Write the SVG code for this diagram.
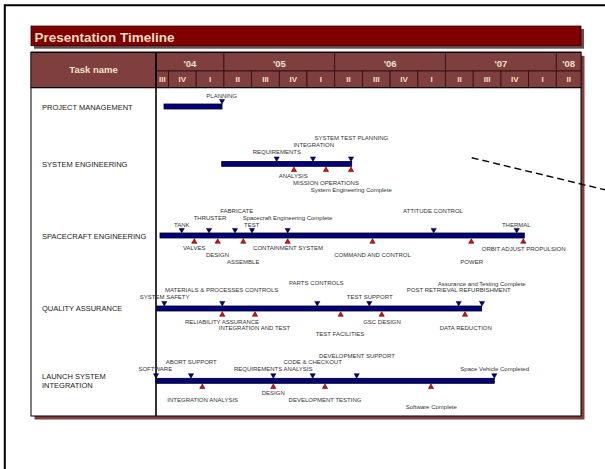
<svg xmlns="http://www.w3.org/2000/svg" width="605" height="469" viewBox="0 0 605 469">
<style>
text{font-family:"Liberation Sans",Arial,sans-serif}
.hd{fill:#7f3f3f;stroke:#2a0d0d;stroke-width:0.8}
.ht{fill:#f2e2c6;font-weight:bold;text-anchor:middle}
.yr{font-size:9.5px}
.qt{font-size:8px}
.rl{font-size:7.5px;fill:#222}
.ml{font-size:6px;fill:#333;text-anchor:middle}
.bar{fill:#000080;stroke:#000;stroke-width:0.8}
</style>
<defs>
<path id="dn" d="M-2.6,-4.6 H2.6 L0,0 Z" fill="#000080" stroke="#000" stroke-width="0.5"/>
<path id="up" d="M-2.6,4.6 H2.6 L0,0 Z" fill="#ff0000" stroke="#000" stroke-width="0.5"/>
</defs>
<rect width="605" height="469" fill="#fff"/>
<path d="M4.8,475 V5.2 H612" fill="none" stroke="#000" stroke-width="2"/>
<g id="title">
<rect x="34" y="29" width="550" height="19.7" fill="#6b4b4b"/>
<rect x="31" y="26" width="550" height="19.7" fill="#800000" stroke="#2a0000" stroke-width="0.8"/>
<text x="34.5" y="42" font-size="13.5" font-weight="bold" fill="#f2dcc0">Presentation Timeline</text>
</g>
<g id="table">
<rect x="34.5" y="55.8" width="550" height="363.7" fill="#7f3f3f"/>
<rect x="31" y="52.3" width="550" height="363.7" fill="#fff" stroke="#000" stroke-width="1"/>
<rect class="hd" x="31" y="52.3" width="125" height="35.4"/>
<text class="ht" x="93.5" y="72.8" font-size="9.5">Task name</text>
<rect class="hd" x="156" y="52.3" width="67.9" height="18.7"/>
<rect class="hd" x="223.9" y="52.3" width="110.8" height="18.7"/>
<rect class="hd" x="334.7" y="52.3" width="110.8" height="18.7"/>
<rect class="hd" x="445.5" y="52.3" width="110.8" height="18.7"/>
<rect class="hd" x="556.3" y="52.3" width="24.7" height="18.7"/>
<text class="ht yr" x="190" y="66.8">'04</text>
<text class="ht yr" x="279.3" y="66.8">'05</text>
<text class="ht yr" x="390.1" y="66.8">'06</text>
<text class="ht yr" x="500.9" y="66.8">'07</text>
<text class="ht yr" x="568.6" y="66.8">'08</text>
<rect class="hd" x="156" y="71" width="12.5" height="16.7"/>
<rect class="hd" x="168.5" y="71" width="27.7" height="16.7"/>
<rect class="hd" x="196.2" y="71" width="27.7" height="16.7"/>
<rect class="hd" x="223.9" y="71" width="27.7" height="16.7"/>
<rect class="hd" x="251.6" y="71" width="27.7" height="16.7"/>
<rect class="hd" x="279.3" y="71" width="27.7" height="16.7"/>
<rect class="hd" x="307" y="71" width="27.7" height="16.7"/>
<rect class="hd" x="334.7" y="71" width="27.7" height="16.7"/>
<rect class="hd" x="362.4" y="71" width="27.7" height="16.7"/>
<rect class="hd" x="390.1" y="71" width="27.7" height="16.7"/>
<rect class="hd" x="417.8" y="71" width="27.7" height="16.7"/>
<rect class="hd" x="445.5" y="71" width="27.7" height="16.7"/>
<rect class="hd" x="473.2" y="71" width="27.7" height="16.7"/>
<rect class="hd" x="500.9" y="71" width="27.7" height="16.7"/>
<rect class="hd" x="528.6" y="71" width="27.7" height="16.7"/>
<rect class="hd" x="556.3" y="71" width="24.7" height="16.7"/>
<text class="ht qt" x="162.3" y="82.3">III</text>
<text class="ht qt" x="182.4" y="82.3">IV</text>
<text class="ht qt" x="210" y="82.3">I</text>
<text class="ht qt" x="237.8" y="82.3">II</text>
<text class="ht qt" x="265.5" y="82.3">III</text>
<text class="ht qt" x="293.2" y="82.3">IV</text>
<text class="ht qt" x="320.9" y="82.3">I</text>
<text class="ht qt" x="348.6" y="82.3">II</text>
<text class="ht qt" x="376.3" y="82.3">III</text>
<text class="ht qt" x="404" y="82.3">IV</text>
<text class="ht qt" x="431.7" y="82.3">I</text>
<text class="ht qt" x="459.4" y="82.3">II</text>
<text class="ht qt" x="487.1" y="82.3">III</text>
<text class="ht qt" x="514.8" y="82.3">IV</text>
<text class="ht qt" x="542.5" y="82.3">I</text>
<text class="ht qt" x="568.7" y="82.3">II</text>
<line x1="31" y1="87.7" x2="581" y2="87.7" stroke="#000" stroke-width="1"/>
<line x1="156" y1="52.3" x2="156" y2="416" stroke="#000" stroke-width="1.6"/>
<line x1="31" y1="52.3" x2="581" y2="52.3" stroke="#000" stroke-width="1.2"/>
</g>
<g id="row-project-management">
<text class="rl" x="42" y="109.8">PROJECT MANAGEMENT</text>
<rect class="bar" x="164" y="104" width="58" height="5"/>
<use href="#dn" x="222" y="104"/>
<text class="ml" x="221.7" y="97.5">PLANNING</text>
</g>
<g id="row-system-engineering">
<text class="rl" x="42" y="166.8">SYSTEM ENGINEERING</text>
<rect class="bar" x="221.7" y="161.5" width="130" height="4.8"/>
<use href="#dn" x="276.7" y="161.5"/>
<use href="#dn" x="313" y="161.5"/>
<use href="#dn" x="351" y="161.5"/>
<use href="#up" x="294" y="167"/>
<use href="#up" x="326" y="167"/>
<use href="#up" x="351" y="167"/>
<text class="ml" x="351.3" y="140.2">SYSTEM TEST PLANNING</text>
<text class="ml" x="313.7" y="146.9">INTEGRATION</text>
<text class="ml" x="276.8" y="153.6">REQUIREMENTS</text>
<text class="ml" x="293.2" y="178">ANALYSIS</text>
<text class="ml" x="326" y="184.6">MISSION OPERATIONS</text>
<text class="ml" x="351.2" y="191.6">System Engineering Complete</text>
</g>
<g id="row-spacecraft-engineering">
<text class="rl" x="42" y="238.7">SPACECRAFT ENGINEERING</text>
<rect class="bar" x="160" y="233" width="364.3" height="5"/>
<use href="#dn" x="181.7" y="233"/>
<use href="#dn" x="209" y="233"/>
<use href="#dn" x="235" y="233"/>
<use href="#dn" x="252" y="233"/>
<use href="#dn" x="287.7" y="233"/>
<use href="#dn" x="433.7" y="233"/>
<use href="#dn" x="516.7" y="233"/>
<use href="#up" x="194.3" y="238.7"/>
<use href="#up" x="217.7" y="238.7"/>
<use href="#up" x="243.3" y="238.7"/>
<use href="#up" x="287.7" y="238.7"/>
<use href="#up" x="372.5" y="238.7"/>
<use href="#up" x="471.3" y="238.7"/>
<use href="#up" x="523.3" y="238.7"/>
<text class="ml" x="181.7" y="226.6">TANK</text>
<text class="ml" x="210" y="219.7">THRUSTER</text>
<text class="ml" x="236.7" y="213">FABRICATE</text>
<text class="ml" x="287.5" y="220">Spacecraft Engineering Complete</text>
<text class="ml" x="251.7" y="226.6">TEST</text>
<text class="ml" x="433" y="213">ATTITUDE CONTROL</text>
<text class="ml" x="516.3" y="226.6">THERMAL</text>
<text class="ml" x="194.3" y="250">VALVES</text>
<text class="ml" x="217.5" y="256.6">DESIGN</text>
<text class="ml" x="243.3" y="264">ASSEMBLE</text>
<text class="ml" x="288" y="250">CONTAINMENT SYSTEM</text>
<text class="ml" x="372.5" y="256.6">COMMAND AND CONTROL</text>
<text class="ml" x="471.7" y="264">POWER</text>
<text class="ml" x="523.7" y="250.6">ORBIT ADJUST PROPULSION</text>
</g>
<g id="row-quality-assurance">
<text class="rl" x="42" y="311">QUALITY ASSURANCE</text>
<rect class="bar" x="156.7" y="306" width="325" height="5"/>
<use href="#dn" x="164.3" y="306"/>
<use href="#dn" x="222.3" y="306"/>
<use href="#dn" x="317.3" y="306"/>
<use href="#dn" x="369.3" y="306"/>
<use href="#dn" x="458.7" y="306"/>
<use href="#dn" x="482" y="306"/>
<use href="#up" x="222.3" y="311.7"/>
<use href="#up" x="255" y="311.7"/>
<use href="#up" x="340.7" y="311.7"/>
<use href="#up" x="381.7" y="311.7"/>
<use href="#up" x="465" y="311.7"/>
<text class="ml" x="164.7" y="299">SYSTEM SAFETY</text>
<text class="ml" x="221.7" y="292">MATERIALS &amp; PROCESSES CONTROLS</text>
<text class="ml" x="316.3" y="285">PARTS CONTROLS</text>
<text class="ml" x="369.7" y="298.5">TEST SUPPORT</text>
<text class="ml" x="458.8" y="291.6">POST RETRIEVAL REFURBISHMENT</text>
<text class="ml" x="481.7" y="285.5">Assurance and Testing Complete</text>
<text class="ml" x="222" y="323.5">RELIABILITY ASSURANCE</text>
<text class="ml" x="254.5" y="329.7">INTEGRATION AND TEST</text>
<text class="ml" x="340" y="336">TEST FACILITIES</text>
<text class="ml" x="382" y="323.5">GSC DESIGN</text>
<text class="ml" x="465.8" y="330">DATA REDUCTION</text>
</g>
<g id="row-launch-system-integration">
<text class="rl" x="42" y="379.3">LAUNCH SYSTEM</text>
<text class="rl" x="42" y="387.7">INTEGRATION</text>
<rect class="bar" x="156" y="378.3" width="338.3" height="5"/>
<use href="#dn" x="156" y="378.3"/>
<use href="#dn" x="191" y="378.3"/>
<use href="#dn" x="273.3" y="378.3"/>
<use href="#dn" x="312.7" y="378.3"/>
<use href="#dn" x="356.7" y="378.3"/>
<use href="#dn" x="494.3" y="378.3"/>
<use href="#up" x="202.3" y="384"/>
<use href="#up" x="273.3" y="384"/>
<use href="#up" x="325" y="384"/>
<use href="#up" x="431" y="384"/>
<text class="ml" x="155.3" y="370.6">SOFTWARE</text>
<text class="ml" x="191.2" y="364">ABORT SUPPORT</text>
<text class="ml" x="273.2" y="370.6">REQUIREMENTS ANALYSIS</text>
<text class="ml" x="312.7" y="364">CODE &amp; CHECKOUT</text>
<text class="ml" x="357" y="357.6">DEVELOPMENT SUPPORT</text>
<text class="ml" x="494.7" y="371">Space Vehicle Completed</text>
<text class="ml" x="202.7" y="402">INTEGRATION ANALYSIS</text>
<text class="ml" x="273.3" y="395">DESIGN</text>
<text class="ml" x="325" y="402">DEVELOPMENT TESTING</text>
<text class="ml" x="431.3" y="409">Software Complete</text>
</g>
<g id="connectors">
<line x1="471.7" y1="157.7" x2="610" y2="191" stroke="#000" stroke-width="1.4" stroke-dasharray="7,4"/>
</g>
</svg>
